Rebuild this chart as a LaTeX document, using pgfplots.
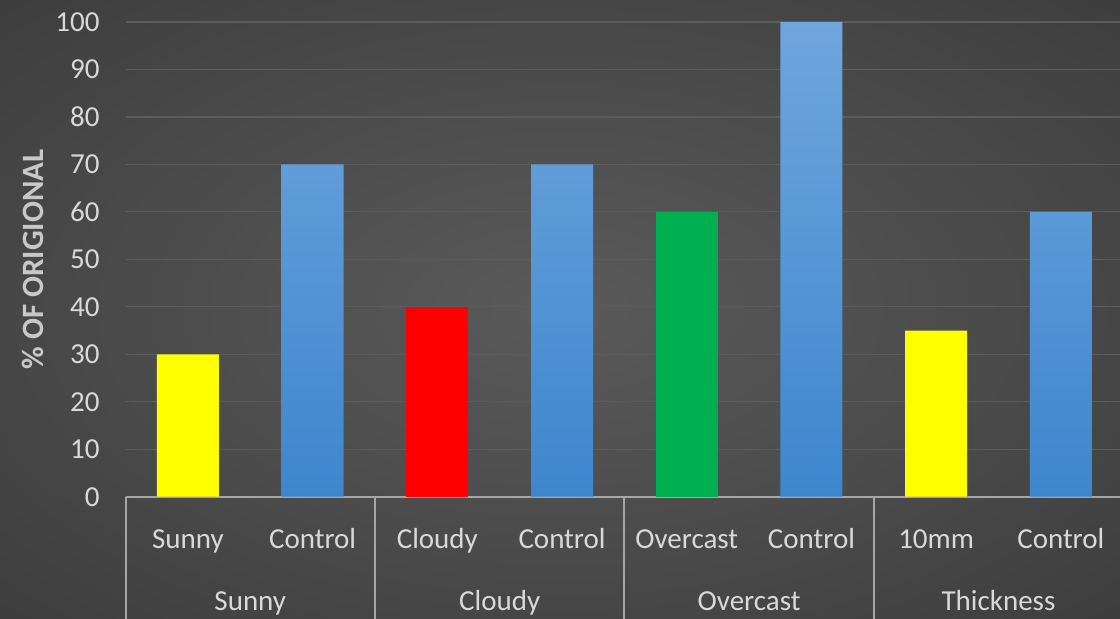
\documentclass[border=0pt]{standalone}
\usepackage{pgfplots}
\pgfplotsset{compat=1.18}
\usepackage{fontspec}
\setmainfont{Carlito}
\definecolor{bgin}{HTML}{5A5A5A}
\definecolor{bgmid}{HTML}{323232}
\definecolor{bgout}{HTML}{262626}
\definecolor{gridc}{HTML}{5C5C5C}
\definecolor{axc}{HTML}{A6A6A6}
\definecolor{txt}{HTML}{D9D9D9}
\definecolor{ylab}{HTML}{C8C8C8}
\definecolor{btop}{HTML}{6FA6DD}
\definecolor{bbot}{HTML}{3D86CE}
\definecolor{bargreen}{HTML}{00B050}
\definecolor{baryellow}{HTML}{FFFF00}
\pgfdeclareradialshading{bgshade}{\pgfpoint{0bp}{0bp}}{color(0bp)=(bgin); color(50bp)=(bgmid); color(71bp)=(bgout)}
\newcommand{\lblfont}{\fontsize{14.5}{17}\selectfont}
\begin{document}
\begin{tikzpicture}
\useasboundingbox (0,0) rectangle (560pt,309pt);
\shade[shading=bgshade] (0,0) rectangle (560pt,309pt);
\begin{axis}[
  at={(62.8pt,60.65pt)}, anchor=south west,
  scale only axis, width=498.8pt, height=237.35pt,
  xmin=-0.5, xmax=7.5, ymin=0, ymax=100,
  ytick={0,10,...,100},
  xtick={0,...,7},
  xticklabels={Sunny,Control,Cloudy,Control,Overcast,Control,10mm,Control},
  /pgf/number format/assume math mode=true,
  ticklabel style={font=\lblfont, text=txt},
  xticklabel style={anchor=base, yshift=-26pt},
  yticklabel style={anchor=east, xshift=-9.5pt},
  axis lines*=left,
  x axis line style={draw=axc, line width=1pt, -},
  y axis line style={draw=none},
  major tick length=0pt,
  tick style={draw=none},
  ymajorgrids,
  grid style={draw=gridc, line width=0.6pt},
  ylabel={\% OF ORIGIONAL},
  every axis y label/.style={at={(axis description cs:0,0.5)}, xshift=-46.3pt, rotate=90, anchor=center, font=\fontsize{15.5}{18}\selectfont\bfseries, text=ylab},
  clip=false,
]
\addplot[ybar, bar width=31pt, bar shift=0pt, draw=none, fill=baryellow] coordinates {(0,30) (6,35)};
\addplot[ybar, bar width=31pt, bar shift=0pt, draw=none, fill=red] coordinates {(2,40)};
\addplot[ybar, bar width=31pt, bar shift=0pt, draw=none, fill=bargreen] coordinates {(4,60)};
\addplot[ybar, bar width=31pt, bar shift=0pt, draw=none, top color=btop, bottom color=bbot] coordinates {(1,70) (3,70) (5,100) (7,60)};
\pgfplotsinvokeforeach{-0.5,1.5,3.5,5.5,7.5}{
  \draw[axc, line width=1pt] (axis cs:#1,0) -- ([yshift=-70pt]axis cs:#1,0);
}
\node[anchor=base, text=txt, font=\lblfont] at ([yshift=-57pt]axis cs:0.5,0) {Sunny};
\node[anchor=base, text=txt, font=\lblfont] at ([yshift=-57pt]axis cs:2.5,0) {Cloudy};
\node[anchor=base, text=txt, font=\lblfont] at ([yshift=-57pt]axis cs:4.5,0) {Overcast};
\node[anchor=base, text=txt, font=\lblfont] at ([yshift=-57pt]axis cs:6.5,0) {Thickness};
\end{axis}
\end{tikzpicture}
\end{document}
